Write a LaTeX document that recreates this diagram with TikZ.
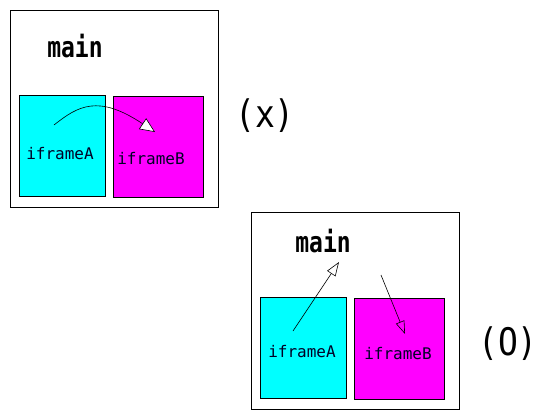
\documentclass[tikz,border=0pt]{standalone}
\usepackage{fontspec}
\setmonofont{DejaVu Sans Mono}
\usetikzlibrary{arrows.meta}
\definecolor{cy}{RGB}{0,255,255}
\definecolor{mg}{RGB}{255,0,255}
\tikzset{
  frame/.style={draw=black, line width=0.8pt, anchor=north west, inner sep=0pt},
  outerbox/.style={frame, fill=white, minimum width=208pt, minimum height=197pt},
  abox/.style={frame, fill=cy, minimum width=86pt, minimum height=101pt},
  bbox/.style={frame, fill=mg, minimum width=90pt, minimum height=101pt},
  mainlbl/.style={font=\ttfamily\bfseries\fontsize{23}{23}\selectfont, inner sep=0pt, yscale=1.25, transform shape},
  frlbl/.style={font=\ttfamily\fontsize{16}{16}\selectfont, inner sep=0pt, text=black!85!blue},
  verdict/.style={font=\ttfamily\fontsize{33}{33}\selectfont, inner sep=0pt, yscale=1.15, transform shape},
  link/.style={draw=black, line width=0.6pt},
}
\begin{document}
\begin{tikzpicture}[x=1pt, y=-1pt]
\useasboundingbox (0,0) rectangle (545,418);
% top diagram
\node[outerbox] (m1) at (10,10) {};
\node[abox] (a1) at (19,95) {};
\node[bbox] (b1) at (113,96) {};
\node[mainlbl] (t1) at (75,46) {main};
\node[frlbl] (la1) at (60,154) {iframeA};
\node[frlbl] (lb1) at (151,159) {iframeB};
\node[verdict] (x) at (265,116) {(x)};
\coordinate (s1) at (54,125);
\coordinate (e1) at (155,132);
\draw[link, -{Triangle[length=15pt,width=13pt,fill=white]}] (s1) .. controls (78,106) and (98,94) .. (e1);
% bottom diagram
\node[outerbox] (m2) at (251,212) {};
\node[abox] (a2) at (260,297) {};
\node[bbox] (b2) at (354,298) {};
\node[mainlbl] (t2) at (323,241) {main};
\node[frlbl] (la2) at (302,352) {iframeA};
\node[frlbl] (lb2) at (398,354) {iframeB};
\node[verdict] (o) at (508,344) {(O)};
\coordinate (s2) at (293,331);
\coordinate (e2) at (339,262);
\coordinate (s3) at (381,275);
\coordinate (e3) at (405,334);
\draw[link, -{Triangle[open,length=14pt,width=10pt]}] (s2) -- (e2);
\draw[link, -{Triangle[open,length=13pt,width=9pt]}] (s3) -- (e3);
\end{tikzpicture}
\end{document}
